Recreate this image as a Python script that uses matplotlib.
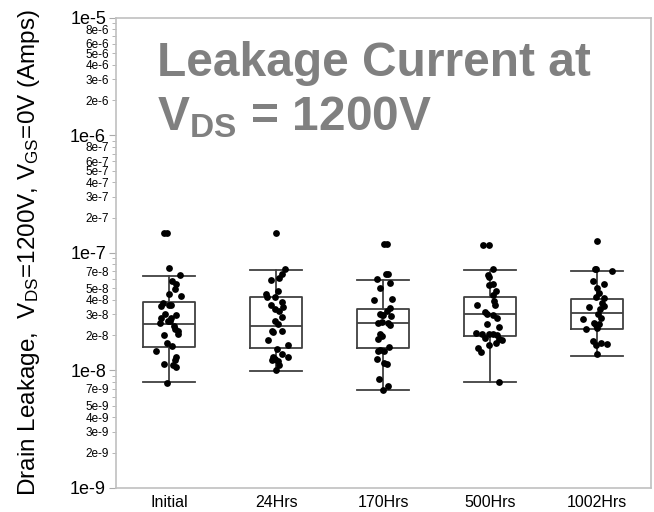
import matplotlib
matplotlib.use('Agg')
import numpy as np
import matplotlib.pyplot as plt
from matplotlib.ticker import FixedLocator, FixedFormatter

plt.rcParams['font.family'] = ['Liberation Sans', 'DejaVu Sans']
plt.rcParams['mathtext.fontset'] = 'custom'
plt.rcParams['mathtext.rm'] = 'Liberation Sans'
plt.rcParams['mathtext.bf'] = 'Liberation Sans:bold'
plt.rcParams['mathtext.it'] = 'Liberation Sans:italic'

groups = ['Initial', '24Hrs', '170Hrs', '500Hrs', '1002Hrs']

# box statistics (Amps)
whis_lo = [7.9e-9, 9.95e-9, 6.8e-9, 7.9e-9, 1.33e-8]
q1 = [1.58e-8, 1.54e-8, 1.55e-8, 1.98e-8, 2.27e-8]
med = [2.47e-8, 2.41e-8, 2.54e-8, 3.01e-8, 3.07e-8]
q3 = [3.80e-8, 4.23e-8, 3.34e-8, 4.20e-8, 4.09e-8]
whis_hi = [6.34e-8, 7.19e-8, 5.86e-8, 7.19e-8, 7.0e-8]

# individual devices: leakage value and horizontal jitter (category units)
initial_y = [1.47e-7, 1.47e-7, 7.42e-8, 6.47e-8, 5.82e-8, 5.46e-8, 4.89e-8, 4.49e-8, 4.28e-8,
             3.76e-8, 3.52e-8, 3.57e-8, 3.57e-8, 2.95e-8, 2.80e-8, 2.80e-8, 2.54e-8, 2.62e-8,
             2.38e-8, 2.18e-8, 2.27e-8, 1.99e-8, 2.05e-8, 1.70e-8, 1.60e-8, 1.47e-8, 1.31e-8,
             1.23e-8, 1.14e-8, 1.12e-8, 1.06e-8, 7.86e-9, 2.62e-8, 3.0e-8]
initial_dx = [-0.048, -0.020, 0.0, 0.098, 0.026, 0.067, 0.051, 0.0, 0.107,
              -0.058, -0.073, 0.0, 0.020, 0.067, 0.020, -0.073, -0.089, 0.005,
              0.045, 0.083, 0.051, -0.048, 0.083, -0.020, 0.026, -0.120, 0.067,
              0.051, -0.048, 0.036, 0.067, -0.020, -0.011, -0.042]

h24_y = [1.48e-7, 7.32e-8, 6.58e-8, 6.1e-8, 5.9e-8, 4.72e-8, 4.49e-8, 4.20e-8, 4.20e-8,
         3.64e-8, 3.36e-8, 3.46e-8, 3.23e-8, 2.83e-8, 2.62e-8, 2.46e-8, 2.18e-8, 2.18e-8,
         2.13e-8, 1.83e-8, 1.64e-8, 1.52e-8, 1.38e-8, 1.31e-8, 1.29e-8, 1.24e-8, 1.21e-8,
         1.22e-8, 1.0e-8, 1.12e-8, 3.85e-8]
h24_dx = [0.0, 0.083, 0.058, 0.026, -0.048, 0.020, -0.098, -0.089, -0.011,
          -0.048, -0.011, 0.067, 0.026, 0.051, -0.011, 0.014, -0.042, 0.051,
          -0.026, -0.073, 0.114, 0.005, 0.051, -0.026, 0.114, -0.011, 0.014,
          -0.036, -0.005, 0.026, 0.051]

h170_y = [1.18e-7, 1.18e-7, 6.58e-8, 6.58e-8, 6.03e-8, 5.5e-8, 5.05e-8, 4.09e-8, 4.0e-8,
          3.41e-8, 3.23e-8, 3.05e-8, 2.98e-8, 2.89e-8, 2.54e-8, 2.59e-8, 2.54e-8, 2.42e-8,
          2.05e-8, 1.98e-8, 1.86e-8, 1.50e-8, 1.46e-8, 1.46e-8, 1.57e-8, 1.24e-8, 1.14e-8,
          1.15e-8, 8.5e-9, 7.31e-9, 6.81e-9, 2.98e-8]
h170_dx = [0.009, 0.031, 0.022, 0.047, -0.062, 0.062, -0.031, 0.078, -0.084,
           0.062, 0.031, -0.031, 0.0, 0.072, -0.053, -0.016, 0.040, 0.062,
           -0.031, -0.016, -0.047, -0.031, 0.009, -0.053, 0.053, -0.062, 0.031,
           0.009, -0.040, 0.040, -0.006, -0.016]

h500_y = [1.17e-7, 1.17e-7, 7.26e-8, 6.5e-8, 6.2e-8, 5.3e-8, 5.4e-8, 4.72e-8, 4.4e-8,
          3.93e-8, 3.57e-8, 3.57e-8, 3.15e-8, 3.0e-8, 2.98e-8, 2.8e-8, 2.46e-8, 2.33e-8,
          2.09e-8, 2.05e-8, 2.05e-8, 2.05e-8, 2.02e-8, 1.89e-8, 1.84e-8, 1.82e-8, 1.72e-8,
          1.64e-8, 1.55e-8, 1.44e-8, 7.96e-9]
h500_dx = [-0.072, -0.009, 0.022, -0.022, -0.009, -0.016, 0.022, 0.053, 0.022,
           0.031, 0.047, -0.125, -0.053, -0.031, 0.022, 0.062, -0.031, 0.078,
           -0.134, -0.078, -0.016, 0.022, 0.062, -0.053, 0.084, 0.109, 0.053,
           -0.016, -0.115, -0.084, 0.078]

h1002_y = [1.26e-7, 7.35e-8, 7.26e-8, 7.0e-8, 5.82e-8, 5.46e-8, 5.05e-8, 4.2e-8, 4.15e-8,
           3.76e-8, 3.52e-8, 3.46e-8, 3.36e-8, 3.0e-8, 2.72e-8, 2.8e-8, 2.54e-8, 2.46e-8,
           2.43e-8, 2.25e-8, 2.3e-8, 1.78e-8, 1.72e-8, 1.69e-8, 1.64e-8, 1.38e-8, 4.57e-8]
h1002_dx = [0.0, -0.022, -0.009, 0.134, -0.040, 0.062, 0.0, -0.016, 0.062,
            0.040, 0.062, -0.078, 0.022, 0.009, -0.134, 0.031, -0.031, 0.016,
            -0.016, -0.109, 0.0, -0.040, 0.031, 0.093, -0.016, 0.0, 0.016]

points_y = [initial_y, h24_y, h170_y, h500_y, h1002_y]
points_dx = [initial_dx, h24_dx, h170_dx, h500_dx, h1002_dx]

fig = plt.figure(figsize=(6.54, 5.12), dpi=100)
ax = fig.add_axes([0.177, 0.047, 0.818, 0.918])

stats = []
for i in range(len(groups)):
    stats.append(dict(whislo=whis_lo[i], q1=q1[i], med=med[i], q3=q3[i],
                      whishi=whis_hi[i], label=groups[i]))
line = dict(color='#404040', linewidth=1.3)
ax.bxp(stats, positions=range(len(groups)), widths=0.49, capwidths=0.49,
       showfliers=False, boxprops=line, whiskerprops=line, capprops=line,
       medianprops=line, manage_ticks=False)

for i in range(len(groups)):
    xs = [i + d for d in points_dx[i]]
    ax.scatter(xs, points_y[i], s=24, color='black', zorder=3, linewidths=0)

ax.set_yscale('log')
ax.set_ylim(1e-9, 1e-5)
ax.set_xlim(-0.5, len(groups) - 0.5)
ax.set_xticks(range(len(groups)))
ax.set_xticklabels(groups, fontsize=11.5)
ax.tick_params(axis='x', length=0, pad=5)

major = [1e-9, 1e-8, 1e-7, 1e-6, 1e-5]
ax.yaxis.set_major_locator(FixedLocator(major))
ax.yaxis.set_major_formatter(FixedFormatter(['1e-9', '1e-8', '1e-7', '1e-6', '1e-5']))
minor = []
minor_lab = []
show = {-9: [2, 3, 4, 5, 7], -8: [2, 3, 4, 5, 7], -7: [2, 3, 4, 5, 6, 8],
        -6: [2, 3, 4, 5, 6, 8]}
for e in [-9, -8, -7, -6]:
    for m in range(2, 10):
        minor.append(m * 10.0 ** e)
        minor_lab.append(f'{m}e{e}' if m in show[e] else '')
ax.yaxis.set_minor_locator(FixedLocator(minor))
ax.yaxis.set_minor_formatter(FixedFormatter(minor_lab))
ax.tick_params(axis='y', which='major', labelsize=13, length=5, color='#aaaaaa', pad=2)
ax.tick_params(axis='y', which='minor', labelsize=8.5, length=3, color='#aaaaaa', pad=2)

for s in ax.spines.values():
    s.set_color('#c0c0c0')
    s.set_linewidth(1.2)

ax.set_ylabel(r'Drain Leakage,  V$_{\mathrm{DS}}$=1200V, V$_{\mathrm{GS}}$=0V (Amps)',
              fontsize=17.5)
ax.yaxis.set_label_coords(-0.138, 0.5)

ax.text(0.078, 0.95, 'Leakage Current at\n' + r'V$_{\mathbf{DS}}$ = 1200V',
        transform=ax.transAxes, ha='left', va='top', fontsize=34.5,
        fontweight='bold', color='#808080', linespacing=1.22)

fig.savefig('out.png', dpi=100)
